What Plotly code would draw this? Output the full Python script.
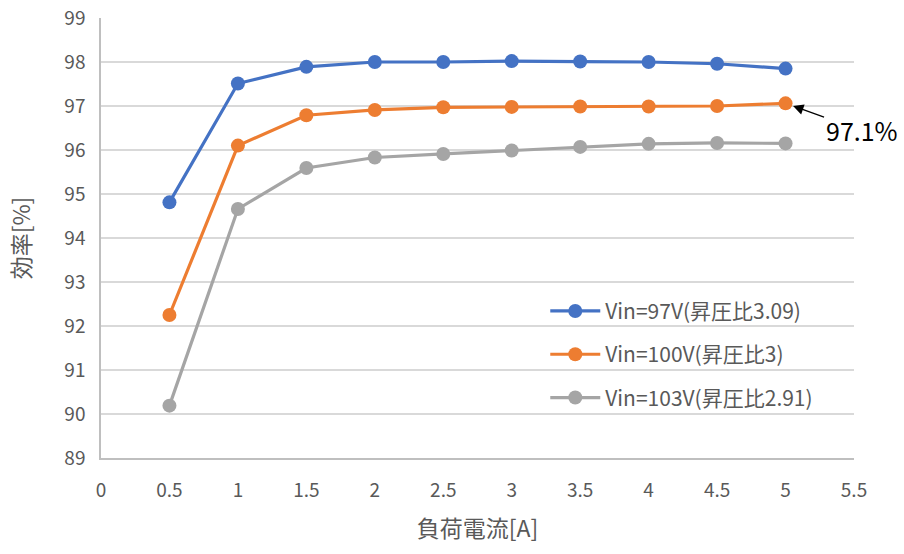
import plotly.graph_objects as go

# Load current [A]
load_current = [0.5, 1, 1.5, 2, 2.5, 3, 3.5, 4, 4.5, 5]

# Efficiency [%] per input voltage
eff_97v = [94.81, 97.51, 97.89, 98.0, 98.0, 98.02, 98.01, 98.0, 97.96, 97.85]
eff_100v = [92.25, 96.1, 96.79, 96.91, 96.97, 96.98, 96.99, 96.99, 97.0, 97.06]
eff_103v = [90.19, 94.66, 95.59, 95.83, 95.91, 95.99, 96.07, 96.14, 96.16, 96.15]

series_names = ["Vin=97V(昇圧比3.09)", "Vin=100V(昇圧比3)", "Vin=103V(昇圧比2.91)"]
series_colors = ["#4472c4", "#ed7d31", "#a5a5a5"]

x_ticks = [0, 0.5, 1, 1.5, 2, 2.5, 3, 3.5, 4, 4.5, 5, 5.5]
y_ticks = list(range(89, 100))

FONT = "Noto Sans CJK JP"

fig = go.Figure()
for i, (name, ys, color) in enumerate(zip(series_names, [eff_97v, eff_100v, eff_103v], series_colors)):
    fig.add_trace(go.Scatter(
        x=load_current, y=ys, name=name, mode="lines+markers",
        legendgroup=f"g{i}",
        line=dict(color=color, width=3.2),
        marker=dict(color=color, size=14),
    ))

# Callout on the last point of the 100 V curve
callout_value = eff_100v[-1]
fig.add_annotation(
    x=load_current[-1], y=callout_value, xref="x", yref="y",
    text=f"{callout_value:.1f}%", showarrow=True,
    arrowhead=2, arrowsize=1.6, arrowwidth=1.3, arrowcolor="#000000",
    ax=76, ay=27, xanchor="center", yanchor="middle",
    standoff=8,
    font=dict(family=FONT, size=25, color="#000000"),
)

fig.update_layout(
    width=904, height=554,
    margin=dict(l=101, r=50, t=18, b=96),
    paper_bgcolor="white", plot_bgcolor="white",
    font=dict(family=FONT, size=19, color="#595959"),
    showlegend=True,
    legend=dict(
        x=0.59, y=0.38, xanchor="left", yanchor="top",
        bgcolor="rgba(255,255,255,0)",
        font=dict(family=FONT, size=21, color="#595959"),
        tracegroupgap=13, itemwidth=50,
    ),
    xaxis=dict(
        range=[0, 5.5], tickvals=x_ticks,
        ticktext=[f"{v:g}" for v in x_ticks],
        showgrid=False, zeroline=False,
        showline=True, linecolor="#bfbfbf", linewidth=1.5,
        ticks="", ticklabelstandoff=14, automargin=False,
        tickfont=dict(family=FONT, size=19, color="#595959"),
        title=dict(text="負荷電流[A]", standoff=20,
                   font=dict(family=FONT, size=23, color="#595959")),
    ),
    yaxis=dict(
        range=[89, 99], tickvals=y_ticks,
        showgrid=True, gridcolor="#d9d9d9", gridwidth=1.5,
        zeroline=False, automargin=False,
        showline=True, linecolor="#bfbfbf", linewidth=1.5,
        ticks="", ticklabelstandoff=10,
        tickfont=dict(family=FONT, size=19, color="#595959"),
        title=dict(text="効率[%]", standoff=27,
                   font=dict(family=FONT, size=23, color="#595959")),
    ),
)

fig.write_html("out.html")
